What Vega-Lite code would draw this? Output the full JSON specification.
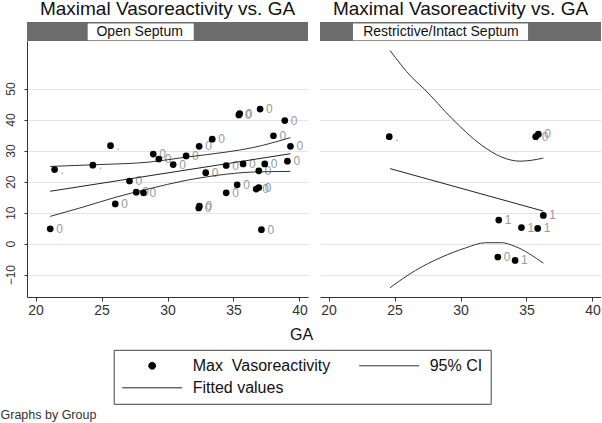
{
  "$schema": "https://vega.github.io/schema/vega-lite/v6.json",
  "padding": {"left": 0, "top": 0, "right": 0, "bottom": 0},
  "background": "white",
  "datasets": {
    "hdr": [
      {"group": "Open Septum"},
      {"group": "Restrictive/Intact Septum"}
    ],
    "pts": [
      {"group": "Open Septum", "ga": 21.11, "vaso": 4.8, "lab": "0"},
      {"group": "Open Septum", "ga": 21.44, "vaso": 23.9, "lab": "."},
      {"group": "Open Septum", "ga": 24.34, "vaso": 25.3, "lab": "."},
      {"group": "Open Septum", "ga": 25.68, "vaso": 31.6, "lab": "."},
      {"group": "Open Septum", "ga": 26.04, "vaso": 12.8, "lab": "0"},
      {"group": "Open Septum", "ga": 27.12, "vaso": 20.2, "lab": "0"},
      {"group": "Open Septum", "ga": 27.63, "vaso": 16.6, "lab": "0"},
      {"group": "Open Septum", "ga": 28.18, "vaso": 16.4, "lab": "0"},
      {"group": "Open Septum", "ga": 28.92, "vaso": 28.9, "lab": "0"},
      {"group": "Open Septum", "ga": 29.34, "vaso": 27.3, "lab": "0"},
      {"group": "Open Septum", "ga": 30.43, "vaso": 25.5, "lab": "0"},
      {"group": "Open Septum", "ga": 31.41, "vaso": 28.3, "lab": "0"},
      {"group": "Open Septum", "ga": 32.4, "vaso": 31.4, "lab": "0"},
      {"group": "Open Septum", "ga": 32.37, "vaso": 11.5, "lab": "0"},
      {"group": "Open Septum", "ga": 32.42, "vaso": 12.1, "lab": "0"},
      {"group": "Open Septum", "ga": 32.9, "vaso": 22.9, "lab": "0"},
      {"group": "Open Septum", "ga": 33.39, "vaso": 33.7, "lab": "0"},
      {"group": "Open Septum", "ga": 34.45, "vaso": 25.2, "lab": "0"},
      {"group": "Open Septum", "ga": 34.45, "vaso": 16.4, "lab": "0"},
      {"group": "Open Septum", "ga": 35.28, "vaso": 19.0, "lab": "0"},
      {"group": "Open Septum", "ga": 35.41, "vaso": 41.5, "lab": "0"},
      {"group": "Open Septum", "ga": 35.47, "vaso": 41.9, "lab": "0"},
      {"group": "Open Septum", "ga": 35.73, "vaso": 25.7, "lab": "0"},
      {"group": "Open Septum", "ga": 37.02, "vaso": 43.4, "lab": "0"},
      {"group": "Open Septum", "ga": 36.92, "vaso": 23.5, "lab": "0"},
      {"group": "Open Septum", "ga": 36.72, "vaso": 17.6, "lab": "0"},
      {"group": "Open Septum", "ga": 36.92, "vaso": 18.1, "lab": "0"},
      {"group": "Open Septum", "ga": 37.37, "vaso": 25.7, "lab": "0"},
      {"group": "Open Septum", "ga": 37.12, "vaso": 4.5, "lab": "0"},
      {"group": "Open Septum", "ga": 38.03, "vaso": 34.8, "lab": "0"},
      {"group": "Open Septum", "ga": 38.89, "vaso": 39.7, "lab": "0"},
      {"group": "Open Septum", "ga": 39.09, "vaso": 26.6, "lab": "0"},
      {"group": "Open Septum", "ga": 39.32, "vaso": 31.4, "lab": "0"},
      {"group": "Restrictive/Intact Septum", "ga": 24.6, "vaso": 34.5, "lab": "."},
      {"group": "Restrictive/Intact Septum", "ga": 35.7, "vaso": 34.5, "lab": "0"},
      {"group": "Restrictive/Intact Septum", "ga": 35.9, "vaso": 35.3, "lab": "0"},
      {"group": "Restrictive/Intact Septum", "ga": 36.28, "vaso": 9.1, "lab": "1"},
      {"group": "Restrictive/Intact Septum", "ga": 32.9, "vaso": 7.6, "lab": "1"},
      {"group": "Restrictive/Intact Septum", "ga": 34.62, "vaso": 5.2, "lab": "1"},
      {"group": "Restrictive/Intact Septum", "ga": 35.85, "vaso": 4.9, "lab": "1"},
      {"group": "Restrictive/Intact Septum", "ga": 32.83, "vaso": -4.3, "lab": "0"},
      {"group": "Restrictive/Intact Septum", "ga": 34.14, "vaso": -5.4, "lab": "1"}
    ],
    "fit": [
      {"group": "Open Septum", "ga": 21.11, "vaso": 16.9},
      {"group": "Open Septum", "ga": 39.32, "vaso": 29.0},
      {"group": "Restrictive/Intact Septum", "ga": 24.66, "vaso": 24.2},
      {"group": "Restrictive/Intact Septum", "ga": 36.28, "vaso": 10.5}
    ],
    "ci": [
      {"group": "Open Septum", "bound": "upper", "ga": 21.11, "vaso": 24.9},
      {"group": "Open Septum", "bound": "upper", "ga": 24.8, "vaso": 25.5},
      {"group": "Open Septum", "bound": "upper", "ga": 28.6, "vaso": 26.3},
      {"group": "Open Septum", "bound": "upper", "ga": 31.4, "vaso": 27.9},
      {"group": "Open Septum", "bound": "upper", "ga": 34.4, "vaso": 29.5},
      {"group": "Open Septum", "bound": "upper", "ga": 36.5, "vaso": 31.0},
      {"group": "Open Septum", "bound": "upper", "ga": 39.32, "vaso": 34.2},
      {"group": "Open Septum", "bound": "lower", "ga": 21.11, "vaso": 8.8},
      {"group": "Open Septum", "bound": "lower", "ga": 23.6, "vaso": 11.8},
      {"group": "Open Septum", "bound": "lower", "ga": 26.1, "vaso": 15.0},
      {"group": "Open Septum", "bound": "lower", "ga": 28.6, "vaso": 17.7},
      {"group": "Open Septum", "bound": "lower", "ga": 31.4, "vaso": 20.4},
      {"group": "Open Septum", "bound": "lower", "ga": 33.7, "vaso": 22.0},
      {"group": "Open Septum", "bound": "lower", "ga": 36.5, "vaso": 23.1},
      {"group": "Open Septum", "bound": "lower", "ga": 39.32, "vaso": 23.3},
      {"group": "Restrictive/Intact Septum", "bound": "upper", "ga": 24.66, "vaso": 62.3},
      {"group": "Restrictive/Intact Septum", "bound": "upper", "ga": 26.34, "vaso": 53.5},
      {"group": "Restrictive/Intact Septum", "bound": "upper", "ga": 27.22, "vaso": 50.0},
      {"group": "Restrictive/Intact Septum", "bound": "upper", "ga": 29.36, "vaso": 40.3},
      {"group": "Restrictive/Intact Septum", "bound": "upper", "ga": 31.62, "vaso": 31.7},
      {"group": "Restrictive/Intact Septum", "bound": "upper", "ga": 33.13, "vaso": 27.9},
      {"group": "Restrictive/Intact Septum", "bound": "upper", "ga": 34.52, "vaso": 26.6},
      {"group": "Restrictive/Intact Septum", "bound": "upper", "ga": 35.4, "vaso": 26.9},
      {"group": "Restrictive/Intact Septum", "bound": "upper", "ga": 36.28, "vaso": 27.6},
      {"group": "Restrictive/Intact Septum", "bound": "lower", "ga": 24.66, "vaso": -14.2},
      {"group": "Restrictive/Intact Septum", "bound": "lower", "ga": 26.6, "vaso": -8.6},
      {"group": "Restrictive/Intact Septum", "bound": "lower", "ga": 28.6, "vaso": -4.3},
      {"group": "Restrictive/Intact Septum", "bound": "lower", "ga": 30.37, "vaso": -1.4},
      {"group": "Restrictive/Intact Septum", "bound": "lower", "ga": 31.88, "vaso": 0.3},
      {"group": "Restrictive/Intact Septum", "bound": "lower", "ga": 33.1, "vaso": 0.3},
      {"group": "Restrictive/Intact Septum", "bound": "lower", "ga": 34.14, "vaso": -0.9},
      {"group": "Restrictive/Intact Septum", "bound": "lower", "ga": 36.28, "vaso": -6.3}
    ]
  },
  "title": {"text": "Graphs by Group", "orient": "bottom", "anchor": "start", "fontSize": 12.5, "fontWeight": "normal", "color": "#333", "offset": 5, "dx": -3.5, "frame": "bounds"},
  "hconcat": [
    {
      "spacing": 0,
      "vconcat": [
        {
          "width": 281, "height": 19,
          "title": {"text": "Maximal Vasoreactivity vs. GA", "fontSize": 19, "fontWeight": "normal", "color": "#111", "anchor": "middle", "offset": 3},
          "view": {"fill": "#6c6c6c", "stroke": null},
          "data": {"name": "hdr"},
          "transform": [{"filter": "datum.group === 'Open Septum'"}],
          "layer": [
            {
              "mark": {"type": "rect", "fill": "white"},
              "encoding": {
                "x": {"datum": 23.95, "type": "quantitative", "scale": {"domain": [19.35, 40.65], "nice": false, "zero": false}, "axis": null},
                "x2": {"datum": 31.99},
                "y": {"datum": 0.04, "type": "quantitative", "scale": {"domain": [0, 1], "nice": false}, "axis": null},
                "y2": {"datum": 0.92}
              }
            },
            {
              "mark": {"type": "text", "fontSize": 14, "color": "#111", "align": "center", "baseline": "middle"},
              "encoding": {
                "x": {"datum": 27.89, "type": "quantitative"},
                "y": {"datum": 0.47, "type": "quantitative"},
                "text": {"field": "group"}
              }
            }
          ]
        },
        {
          "width": 281, "height": 256,
          "encoding": {
            "x": {"field": "ga", "type": "quantitative", "scale": {"domain": [19.35, 40.65], "nice": false, "zero": false},
                  "axis": {"values": [20, 25, 30, 35, 40], "grid": false, "tickSize": 4, "labelPadding": 2, "labelFontSize": 14, "title": "GA", "titleFontSize": 16, "titleFontWeight": "normal", "titleColor": "#111", "titleAnchor": null, "titleAlign": "center", "titleBaseline": "alphabetic", "titleX": 274, "titleY": 42}},
            "y": {"field": "vaso", "type": "quantitative", "scale": {"domain": [-17.2, 65.35], "nice": false, "zero": false},
                  "axis": {"values": [-10, 0, 10, 20, 30, 40, 50], "grid": true, "tickSize": 3, "labelAngle": 270, "labelAlign": "center", "labelBaseline": "bottom", "labelPadding": 7, "labelFontSize": 12, "title": null}}
          },
          "layer": [
            {
              "data": {"name": "pts"},
              "transform": [{"filter": "datum.group === 'Open Septum'"}],
              "mark": {"type": "text", "align": "left", "baseline": "middle", "dx": 6, "fontSize": 12, "color": "#999"},
              "encoding": {"text": {"field": "lab"}}
            },
            {
              "data": {"name": "ci"},
              "transform": [{"filter": "datum.group === 'Open Septum'"}],
              "mark": {"type": "line", "strokeWidth": 1, "interpolate": "monotone"},
              "encoding": {
                "detail": {"field": "bound"},
                "color": {"datum": "95% CI", "type": "nominal",
                  "scale": {"domain": ["Max\u00a0 Vasoreactivity", "Fitted values", "95% CI"], "range": ["#000000", "#222222", "#333333"]},
                  "legend": {"orient": "none", "legendX": 86.7, "legendY": 327.8, "title": null, "columns": 2, "symbolType": "stroke", "symbolSize": 3600, "symbolStrokeWidth": 1, "clipHeight": 16,
                    "encode": {"symbols": {"update": {
                      "shape": {"signal": "datum.value === 'Max\u00a0 Vasoreactivity' ? 'M0.115,0A0.115,0.115,0,1,1,-0.115,0A0.115,0.115,0,1,1,0.115,0Z' : 'stroke'"},
                      "fill": {"signal": "datum.value === 'Max\u00a0 Vasoreactivity' ? '#000000' : 'transparent'"},
                      "stroke": {"signal": "datum.value === 'Max\u00a0 Vasoreactivity' ? 'transparent' : '#333333'"},
                      "opacity": {"value": 1}
                    }}}}
                }
              }
            },
            {
              "data": {"name": "fit"},
              "transform": [{"filter": "datum.group === 'Open Septum'"}],
              "mark": {"type": "line", "strokeWidth": 1},
              "encoding": {"color": {"datum": "Fitted values", "type": "nominal",
                  "scale": {"domain": ["Max\u00a0 Vasoreactivity", "Fitted values", "95% CI"], "range": ["#000000", "#222222", "#333333"]},
                  "legend": {"orient": "none", "legendX": 86.7, "legendY": 327.8, "title": null, "columns": 2, "symbolType": "stroke", "symbolSize": 3600, "symbolStrokeWidth": 1, "clipHeight": 16,
                    "encode": {"symbols": {"update": {
                      "shape": {"signal": "datum.value === 'Max\u00a0 Vasoreactivity' ? 'M0.115,0A0.115,0.115,0,1,1,-0.115,0A0.115,0.115,0,1,1,0.115,0Z' : 'stroke'"},
                      "fill": {"signal": "datum.value === 'Max\u00a0 Vasoreactivity' ? '#000000' : 'transparent'"},
                      "stroke": {"signal": "datum.value === 'Max\u00a0 Vasoreactivity' ? 'transparent' : '#333333'"},
                      "opacity": {"value": 1}
                    }}}}}}
            },
            {
              "data": {"name": "pts"},
              "transform": [{"filter": "datum.group === 'Open Septum'"}],
              "mark": {"type": "point", "filled": true, "size": 45, "opacity": 1},
              "encoding": {"color": {"datum": "Max\u00a0 Vasoreactivity", "type": "nominal",
                  "scale": {"domain": ["Max\u00a0 Vasoreactivity", "Fitted values", "95% CI"], "range": ["#000000", "#222222", "#333333"]},
                  "legend": {"orient": "none", "legendX": 86.7, "legendY": 327.8, "title": null, "columns": 2, "symbolType": "stroke", "symbolSize": 3600, "symbolStrokeWidth": 1, "clipHeight": 16,
                    "encode": {"symbols": {"update": {
                      "shape": {"signal": "datum.value === 'Max\u00a0 Vasoreactivity' ? 'M0.115,0A0.115,0.115,0,1,1,-0.115,0A0.115,0.115,0,1,1,0.115,0Z' : 'stroke'"},
                      "fill": {"signal": "datum.value === 'Max\u00a0 Vasoreactivity' ? '#000000' : 'transparent'"},
                      "stroke": {"signal": "datum.value === 'Max\u00a0 Vasoreactivity' ? 'transparent' : '#333333'"},
                      "opacity": {"value": 1}
                    }}}}}}
            }
          ]
        }
      ]
    },
    {
      "spacing": 0,
      "vconcat": [
        {
          "width": 281, "height": 19,
          "title": {"text": "Maximal Vasoreactivity vs. GA", "fontSize": 19, "fontWeight": "normal", "color": "#111", "anchor": "middle", "offset": 3},
          "view": {"fill": "#6c6c6c", "stroke": null},
          "data": {"name": "hdr"},
          "transform": [{"filter": "datum.group === 'Restrictive/Intact Septum'"}],
          "layer": [
            {
              "mark": {"type": "rect", "fill": "white"},
              "encoding": {
                "x": {"datum": 21.85, "type": "quantitative", "scale": {"domain": [19.35, 40.65], "nice": false, "zero": false}, "axis": null},
                "x2": {"datum": 35.12},
                "y": {"datum": 0.04, "type": "quantitative", "scale": {"domain": [0, 1], "nice": false}, "axis": null},
                "y2": {"datum": 0.92}
              }
            },
            {
              "mark": {"type": "text", "fontSize": 14, "color": "#111", "align": "center", "baseline": "middle"},
              "encoding": {
                "x": {"datum": 28.52, "type": "quantitative"},
                "y": {"datum": 0.47, "type": "quantitative"},
                "text": {"field": "group"}
              }
            }
          ]
        },
        {
          "width": 281, "height": 256,
          "encoding": {
            "x": {"field": "ga", "type": "quantitative", "scale": {"domain": [19.35, 40.65], "nice": false, "zero": false},
                  "axis": {"values": [20, 25, 30, 35, 40], "grid": false, "tickSize": 4, "labelPadding": 2, "labelFontSize": 14, "title": null}},
            "y": {"field": "vaso", "type": "quantitative", "scale": {"domain": [-17.2, 65.35], "nice": false, "zero": false},
                  "axis": {"values": [-10, 0, 10, 20, 30, 40, 50], "grid": true, "domain": false, "ticks": false, "labels": false, "title": null}}
          },
          "layer": [
            {
              "data": {"name": "pts"},
              "transform": [{"filter": "datum.group === 'Restrictive/Intact Septum'"}],
              "mark": {"type": "text", "align": "left", "baseline": "middle", "dx": 6, "fontSize": 12, "color": "#999"},
              "encoding": {"text": {"field": "lab"}}
            },
            {
              "data": {"name": "ci"},
              "transform": [{"filter": "datum.group === 'Restrictive/Intact Septum'"}],
              "mark": {"type": "line", "strokeWidth": 1, "interpolate": "monotone"},
              "encoding": {
                "detail": {"field": "bound"},
                "color": {"datum": "95% CI", "type": "nominal",
                  "scale": {"domain": ["Max\u00a0 Vasoreactivity", "Fitted values", "95% CI"], "range": ["#000000", "#222222", "#333333"]}}
              }
            },
            {
              "data": {"name": "fit"},
              "transform": [{"filter": "datum.group === 'Restrictive/Intact Septum'"}],
              "mark": {"type": "line", "strokeWidth": 1},
              "encoding": {"color": {"datum": "Fitted values", "type": "nominal",
                  "scale": {"domain": ["Max\u00a0 Vasoreactivity", "Fitted values", "95% CI"], "range": ["#000000", "#222222", "#333333"]}}}
            },
            {
              "data": {"name": "pts"},
              "transform": [{"filter": "datum.group === 'Restrictive/Intact Septum'"}],
              "mark": {"type": "point", "filled": true, "size": 45, "opacity": 1},
              "encoding": {"color": {"datum": "Max\u00a0 Vasoreactivity", "type": "nominal",
                  "scale": {"domain": ["Max\u00a0 Vasoreactivity", "Fitted values", "95% CI"], "range": ["#000000", "#222222", "#333333"]}}}
            }
          ]
        }
      ]
    }
  ],
  "spacing": 7,
  "resolve": {"scale": {"color": "shared"}, "legend": {"color": "shared"}},
  "config": {
    "font": "Liberation Sans",
    "view": {"stroke": null},
    "axis": {"labelColor": "#333", "domainColor": "#333", "tickColor": "#333", "gridColor": "#e4e4e4", "labelFont": "Liberation Sans", "titleFont": "Liberation Sans"},
    "title": {"font": "Liberation Sans"},
    "legend": {
      "labelFontSize": 16,
      "labelFont": "Liberation Sans",
      "labelColor": "#111",
      "labelOffset": 10,
      "labelLimit": 300,
      "columnPadding": 28,
      "rowPadding": 6,
      "padding": 8,
      "strokeColor": "#444",
      "fillColor": "white",
      "symbolOpacity": 1
    }
  }
}
